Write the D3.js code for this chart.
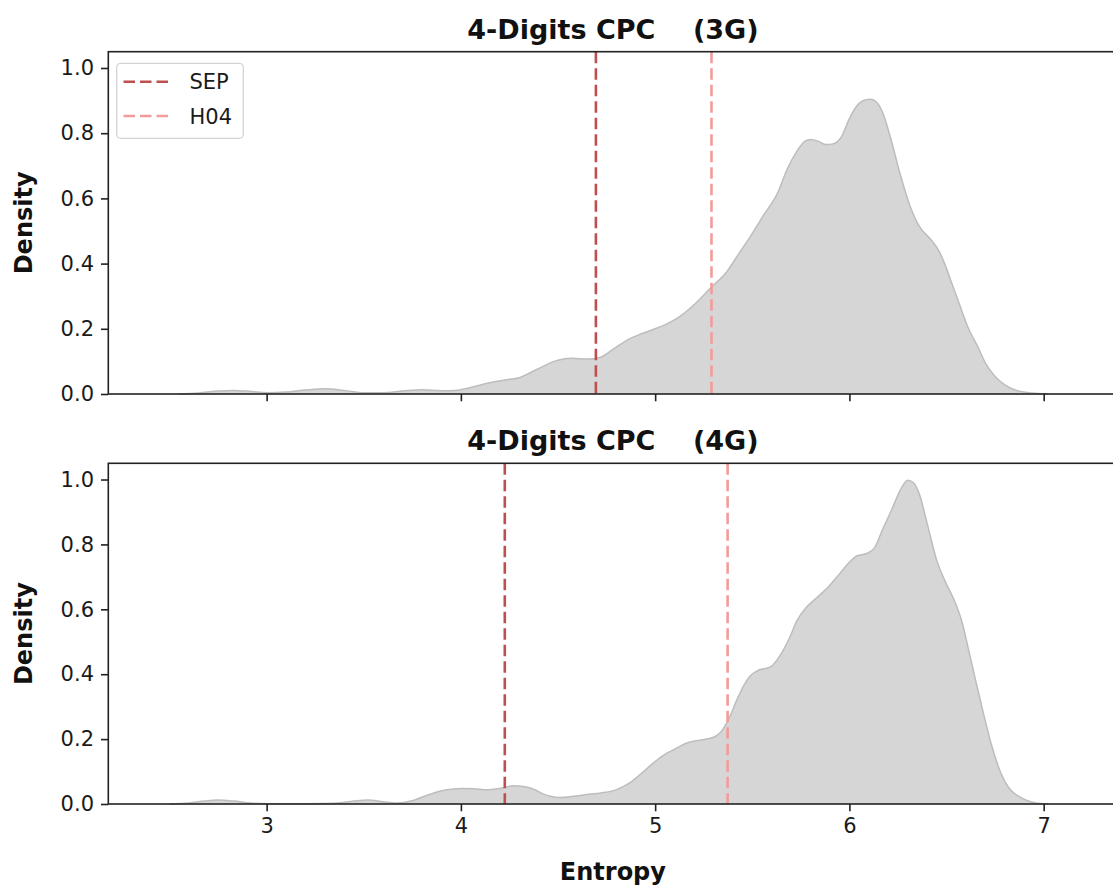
<!DOCTYPE html>
<html>
<head>
<meta charset="utf-8">
<script src="https://cdn.jsdelivr.net/npm/d3@7"></script>
<style>
  html, body { margin: 0; padding: 0; background: #ffffff; }
  svg { display: block; font-family: "DejaVu Sans", sans-serif; }
  .tick text { fill: #1a1a1a; }
</style>
</head>
<body>
<svg id="chart" width="1113" height="888"></svg>
<script>
// Kernel density estimates of entropy, 4-digit CPC classes
const entropy3G = [2.55, 2.65, 2.75, 2.83, 2.92, 3.0, 3.1, 3.2, 3.3, 3.4, 3.5, 3.6, 3.7, 3.8, 3.9, 3.97,
  4.05, 4.16, 4.23, 4.30, 4.39, 4.48, 4.57, 4.65, 4.72, 4.79, 4.86, 4.93, 5.0, 5.06, 5.12, 5.21,
  5.29, 5.37, 5.43, 5.49, 5.56, 5.63, 5.68, 5.73, 5.77, 5.80, 5.84, 5.88, 5.92, 5.96, 6.0, 6.04,
  6.08, 6.11, 6.14, 6.17, 6.21, 6.26, 6.31, 6.36, 6.42, 6.46, 6.49, 6.53, 6.57, 6.61, 6.66, 6.70,
  6.75, 6.80, 6.85, 6.94, 7.02];
const density3G = [0, 0.003, 0.009, 0.011, 0.008, 0.004, 0.006, 0.012, 0.016, 0.011, 0.004, 0.004, 0.009, 0.013, 0.010, 0.011,
  0.020, 0.036, 0.043, 0.050, 0.075, 0.100, 0.110, 0.107, 0.113, 0.140, 0.167, 0.185, 0.200, 0.215, 0.235, 0.279,
  0.328, 0.376, 0.430, 0.483, 0.550, 0.616, 0.690, 0.745, 0.775, 0.781, 0.775, 0.765, 0.768, 0.790, 0.845, 0.885,
  0.902, 0.904, 0.895, 0.865, 0.790, 0.677, 0.580, 0.514, 0.473, 0.440, 0.400, 0.335, 0.269, 0.205, 0.146, 0.095,
  0.054, 0.028, 0.013, 0.003, 0];

const entropy4G = [2.50, 2.60, 2.68, 2.75, 2.83, 2.92, 3.0, 3.2, 3.35, 3.45, 3.52, 3.60, 3.67, 3.75, 3.83, 3.92,
  4.0, 4.07, 4.13, 4.20, 4.27, 4.33, 4.38, 4.42, 4.46, 4.51, 4.58, 4.66, 4.72, 4.79, 4.84, 4.88,
  4.94, 5.0, 5.05, 5.11, 5.16, 5.22, 5.28, 5.31, 5.345, 5.38, 5.42, 5.456, 5.49, 5.53, 5.57, 5.60,
  5.64, 5.69, 5.73, 5.78, 5.84, 5.89, 5.95, 6.0, 6.04, 6.09, 6.13, 6.17, 6.22, 6.26, 6.30, 6.33,
  6.36, 6.40, 6.45, 6.49, 6.54, 6.58, 6.61, 6.65, 6.69, 6.73, 6.78, 6.82, 6.87, 6.92, 6.96, 7.02];
const density4G = [0, 0.003, 0.009, 0.012, 0.009, 0.003, 0.001, 0.0005, 0.002, 0.009, 0.012, 0.007, 0.003, 0.010, 0.028, 0.043,
  0.048, 0.047, 0.044, 0.048, 0.056, 0.053, 0.044, 0.032, 0.024, 0.020, 0.024, 0.030, 0.034, 0.042, 0.055, 0.070,
  0.100, 0.131, 0.153, 0.172, 0.187, 0.196, 0.202, 0.208, 0.227, 0.264, 0.320, 0.365, 0.395, 0.412, 0.418, 0.425,
  0.455, 0.510, 0.565, 0.607, 0.640, 0.668, 0.710, 0.745, 0.765, 0.772, 0.790, 0.845, 0.910, 0.965, 0.998, 0.990,
  0.955, 0.865, 0.750, 0.690, 0.627, 0.560, 0.484, 0.380, 0.279, 0.185, 0.095, 0.050, 0.024, 0.009, 0.003, 0];

// Reference entropies marked as dashed lines
const markerNames = ["SEP", "H04"];
const markers3G = [4.695, 5.29];
const markers4G = [4.226, 5.373];

const panelTitles = ["4-Digits CPC    (3G)", "4-Digits CPC    (4G)"];
const xTicks = [3, 4, 5, 6, 7];
const yTicks = [0, 0.2, 0.4, 0.6, 0.8, 1.0];
const xDomain = [2.185, 7.38];
const yDomain = [0, 1.05];

const markerColors = ["#bf4f4f", "#f39b9b"];

const svg = d3.select("#chart");
const left = 108.3, right = 1117.5;
const panels = [
  { top: 51.7, bottom: 394, xs: entropy3G, ys: density3G, marks: markers3G, title: panelTitles[0], legend: true, xLabels: false },
  { top: 463.3, bottom: 804, xs: entropy4G, ys: density4G, marks: markers4G, title: panelTitles[1], legend: false, xLabels: true }
];

const x = d3.scaleLinear().domain(xDomain).range([left, right]);

panels.forEach(p => {
  const y = d3.scaleLinear().domain(yDomain).range([p.bottom, p.top]);
  const g = svg.append("g");
  const pts = p.xs.map((v, i) => [v, p.ys[i]]);

  // density fill
  const area = d3.area().x(d => x(d[0])).y0(y(0)).y1(d => y(d[1])).curve(d3.curveMonotoneX);
  const line = d3.line().x(d => x(d[0])).y(d => y(d[1])).curve(d3.curveMonotoneX);
  g.append("path").datum(pts).attr("d", area).attr("fill", "#d6d6d6");
  g.append("path").datum(pts).attr("d", line).attr("fill", "none")
    .attr("stroke", "#bdbdbd").attr("stroke-width", 1.5);

  // reference lines
  p.marks.forEach((m, i) => {
    g.append("line")
      .attr("x1", x(m)).attr("x2", x(m))
      .attr("y1", y(yDomain[1])).attr("y2", y(0))
      .attr("stroke", markerColors[i]).attr("stroke-width", 2.6)
      .attr("stroke-dasharray", "11.5,5");
  });

  // axes
  const ya = d3.axisLeft(y).tickValues(yTicks).tickFormat(d3.format(".1f")).tickSize(7.3).tickPadding(7);
  const yg = g.append("g").attr("transform", `translate(${left},0)`).call(ya);
  const xa = d3.axisBottom(x).tickValues(xTicks).tickSize(7.3).tickPadding(7)
    .tickFormat(p.xLabels ? d3.format("d") : () => "");
  const xg = g.append("g").attr("transform", `translate(0,${p.bottom})`).call(xa);
  [yg, xg].forEach(a => {
    a.select(".domain").remove();
    a.selectAll(".tick line").attr("stroke", "#222").attr("stroke-width", 1.6);
    a.selectAll(".tick text").attr("font-size", 21).attr("font-family", "DejaVu Sans");
  });

  // frame
  g.append("rect").attr("x", left).attr("y", p.top)
    .attr("width", right - left).attr("height", p.bottom - p.top)
    .attr("fill", "none").attr("stroke", "#222").attr("stroke-width", 1.6);

  // title
  g.append("text").attr("x", (left + right) / 2).attr("y", p.top - 13)
    .attr("text-anchor", "middle").attr("font-size", 27).attr("font-weight", "bold")
    .style("white-space", "pre").attr("fill", "#111").text(p.title);

  // y label
  g.append("text")
    .attr("transform", `translate(32,${(p.top + p.bottom) / 2}) rotate(-90)`)
    .attr("text-anchor", "middle").attr("font-size", 24).attr("font-weight", "bold")
    .attr("fill", "#111").text("Density");

  if (p.legend) {
    const lg = g.append("g");
    lg.append("rect").attr("x", 116.7).attr("y", 63.3).attr("width", 126.6).attr("height", 75)
      .attr("rx", 4).attr("fill", "rgba(255,255,255,0.8)").attr("stroke", "#d4d4d4").attr("stroke-width", 1.3);
    markerNames.forEach((name, i) => {
      const cy = 81.7 + i * 34.3;
      lg.append("line").attr("x1", 123.5).attr("x2", 169.5).attr("y1", cy).attr("y2", cy)
        .attr("stroke", markerColors[i]).attr("stroke-width", 2.6).attr("stroke-dasharray", "11.5,5");
      lg.append("text").attr("x", 189.5).attr("y", cy).attr("dy", "0.36em")
        .attr("font-size", 21).attr("fill", "#1a1a1a").text(name);
    });
  }
});

// x label
svg.append("text").attr("x", (left + right) / 2).attr("y", 880)
  .attr("text-anchor", "middle").attr("font-size", 24).attr("font-weight", "bold")
  .attr("fill", "#111").text("Entropy");
</script>
</body>
</html>
